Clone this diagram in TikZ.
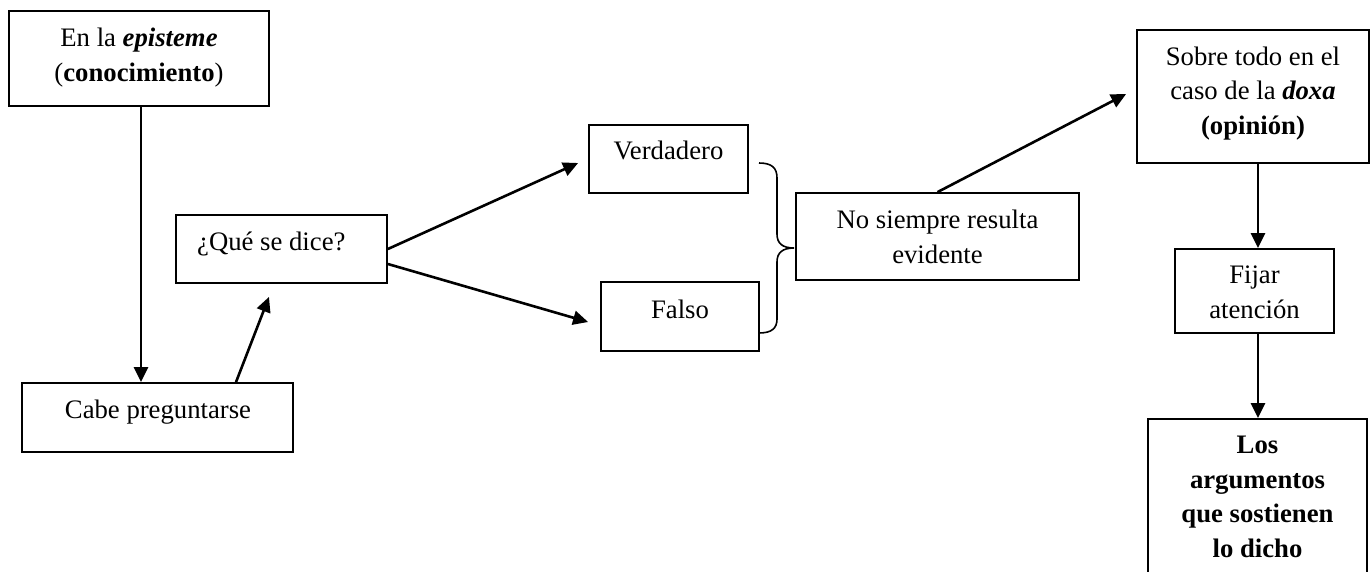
\documentclass[tikz,border=0pt]{standalone}
\usepackage{fontspec}
\setmainfont{Liberation Serif}
\usetikzlibrary{arrows.meta}
\begin{document}
\begin{tikzpicture}[x=1pt,y=-1pt,
  box/.style={draw, line width=1.8pt, inner sep=0pt, rectangle},
  txt/.style={font=\fontsize{26.7}{34.5}\selectfont, inner sep=0pt, align=center, anchor=base},
  arr/.style={line width=2.6pt, -{Triangle[length=15pt,width=14pt]}},
  bracestyle/.style={line width=1.6pt}]
\clip (0,0) rectangle (1371,571);
\fill[white] (0,0) rectangle (1371,571);

% boxes
\node[box, minimum width=260pt, minimum height=95pt] (epi) at (139,58.5) {};
\node[box, minimum width=271pt, minimum height=69pt] (cabe) at (157.5,417.5) {};
\node[box, minimum width=211pt, minimum height=68pt] (que) at (281.5,249) {};
\node[box, minimum width=159pt, minimum height=68pt] (verd) at (668.5,159) {};
\node[box, minimum width=158pt, minimum height=69pt] (falso) at (680,316.5) {};
\node[box, minimum width=283pt, minimum height=87pt] (nos) at (937.5,236.5) {};
\node[box, minimum width=232pt, minimum height=133pt] (sobre) at (1253,96.5) {};
\node[box, minimum width=159pt, minimum height=84pt] (fijar) at (1254.5,291) {};
\node[box, minimum width=219pt, minimum height=159pt] (los) at (1257.5,498.5) {};

% texts (base anchor = baseline of the last line)
\node[txt] (epit) at (139,81) {En la \textbf{\textit{episteme}}\\(\textbf{conocimiento})};
\node[txt] (cabet) at (158,418.5) {Cabe preguntarse};
\node[txt, anchor=base west] (quet) at (197,250.5) {¿Qué se dice?};
\node[txt] (verdt) at (668.5,159.5) {Verdadero};
\node[txt] (falsot) at (680,318) {Falso};
\node[txt] (nost) at (937.5,263) {No siempre resulta\\evidente};
\node[txt] (sobret) at (1253,134) {Sobre todo en el\\caso de la \textbf{\textit{doxa}}\\\textbf{(opinión)}};
\node[txt] (fijart) at (1254.5,318) {Fijar\\atención};
\node[txt, font=\fontsize{26.7}{34.5}\selectfont\bfseries] (lost) at (1257.5,557) {Los\\argumentos\\que sostienen\\lo dicho};

% connectors
\draw[arr] ([xshift=2pt]epi.south) -- ([xshift=2pt]epi.south |- cabe.north);
\draw[arr] ([xshift=78.5pt]cabe.north) -- ([xshift=-12.5pt,yshift=-13pt]que.south);
\draw[arr] (que.east) -- ([xshift=-10pt,yshift=-4pt]verd.west);
\draw[arr] ([yshift=-15pt]que.east) -- ([xshift=-12pt,yshift=-5.5pt]falso.west);
\draw[arr] (nos.north) -- ([xshift=-10pt,yshift=2.5pt]sobre.west);
\draw[arr] ([xshift=3.5pt]fijar.north |- sobre.south) -- ([xshift=3.5pt]fijar.north);
\draw[arr] ([xshift=3.5pt]fijar.south) -- ([xshift=3.5pt]fijar.south |- los.north);

% brace
\coordinate (btop) at (759,163);
\coordinate (btip) at (794,248);
\coordinate (bbot) at (759,333);
\draw[bracestyle] (btop) .. controls (772,163) and (777,168) .. (777,178) -- (777,234)
  .. controls (777,243) and (782,248) .. (btip)
  .. controls (782,248) and (777,253) .. (777,262) -- (777,319)
  .. controls (777,328) and (772,333) .. (bbot);
\end{tikzpicture}
\end{document}
